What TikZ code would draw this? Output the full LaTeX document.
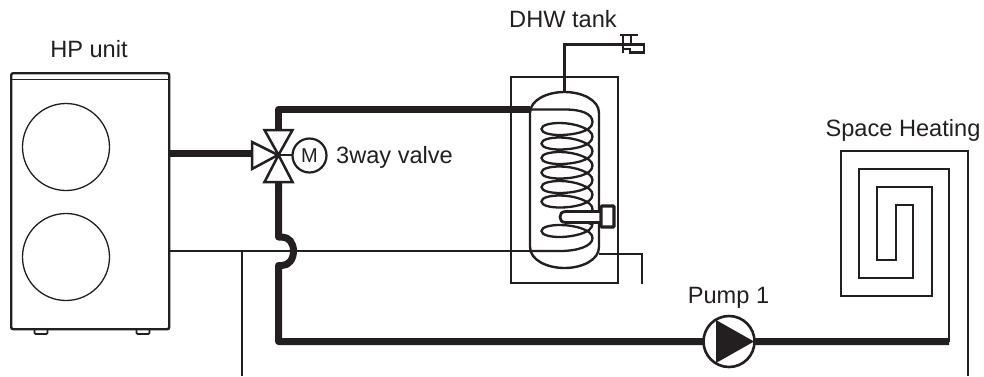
\documentclass[tikz,border=0pt]{standalone}
\usepackage{fontspec}
\setmainfont{Liberation Sans}
\definecolor{ink}{HTML}{231F20}
\tikzset{
  x=1pt,y=-1pt,
  every path/.style={color=ink},
  lab/.style={anchor=base,inner sep=0pt,text=ink,font=\fontsize{23.6}{24}\selectfont},
  thickpipe/.style={draw=ink,line width=7pt,line join=round,line cap=round},
  thinpipe/.style={draw=ink,line width=2.1pt,line join=miter},
  casing/.style={draw=ink,line width=2.4pt,rounded corners=2pt,fill=white},
  fan/.style={circle,draw=ink,line width=1.3pt,minimum size=87pt,inner sep=0pt},
  valvepart/.style={draw=ink,line width=2.5pt,fill=white,line join=miter},
  coil/.style={draw=ink,line width=2.3pt},
  foot/.style={draw=ink,line width=1.8pt,rounded corners=1pt,fill=white,minimum width=13pt,minimum height=5.5pt,inner sep=0pt,anchor=north},
}
\begin{document}
\begin{tikzpicture}
\useasboundingbox (0,0) rectangle (984,376);
% labels
\node[lab] (hplabel) at (89,57) {HP unit};
\node[lab] (dhwlabel) at (563,27.5) {DHW tank};
\node[lab] (valvelabel) at (394.5,163) {3way valve};
\node[lab] (pumplabel) at (728.5,303) {Pump 1};
\node[lab] (shlabel) at (903,136.5) {Space Heating};
% coordinates
\coordinate (hpHot) at (168,153.5);
\coordinate (hpRet) at (168,251);
\coordinate (valve) at (278,155);
\coordinate (tankHot) at (530,109.5);
\coordinate (tankRet) at (530,251);
\coordinate (floorIn) at (949,341.5);
\coordinate (retDrop) at (242,251);
\coordinate (retEnd) at (242,376);
\coordinate (floorEnd) at (968,376);
\coordinate (tankTop) at (564.5,92);
\coordinate (tapIn) at (623,44.5);
\coordinate (drainA) at (599,254);
\coordinate (drainB) at (642,284);
% thin return behind everything
\draw[thinpipe] (hpRet) -- (tankRet);
\draw[thinpipe] (retDrop) -- (retEnd);
% HP unit
\node[foot] (footA) at (41,327.5) {};
\node[foot] (footB) at (143,327.5) {};
\node[casing,minimum width=158pt,minimum height=256pt,inner sep=0pt,rectangle,anchor=north west] (hp) at (10,72) {};
\draw[line width=1.4pt] (10,79.5) -- (168,79.5);
\node[fan] (fanA) at (66,147) {};
\node[fan] (fanB) at (66,257) {};
% thick pipes
\draw[thickpipe,line cap=butt] (hpHot) -- (253,153.5);
\draw[thickpipe,line cap=butt] (278.5,131) -- (278.5,109.5) -- (tankHot);
\draw[thickpipe,line cap=butt] (278.5,181) -- (278.5,237)
  .. controls (281,237) .. (282,237)
  .. controls (289,237) and (293.5,243) .. (293.5,251)
  .. controls (293.5,259) and (289,265.5) .. (282,265.5)
  .. controls (281,265.5) .. (278.5,265.5) -- (278.5,341.5) -- (floorIn);
% valve
\draw[line width=2.1pt] (valve) -- (292,155);
\draw[valvepart] (252,142) -- (278,155) -- (252,169) -- cycle;
\draw[valvepart] (264.5,130) -- (292.5,130) -- (278.5,155) -- cycle;
\draw[valvepart] (264.5,182) -- (292.5,182) -- (278.5,155) -- cycle;
\node[circle,draw=ink,line width=2.2pt,fill=white,minimum size=34pt,inner sep=0pt,font=\fontsize{20}{20}\selectfont,text=ink] (motor) at (309.5,155.5) {M};
% tank
\draw[thinpipe] (511,77) rectangle (618,283);
\draw[thinpipe] (tankTop) -- (564.5,44.5) -- (tapIn);
\draw[thinpipe] (drainA) -- (642,254) -- (drainB);
\draw[draw=ink,line width=2.4pt,fill=white] (530,113) .. controls (530,100) and (547,92) .. (tankTop)
  .. controls (582,92) and (599,100) .. (599,113) -- (599,247)
  .. controls (599,260) and (582,268) .. (564.5,268)
  .. controls (547,268) and (530,260) .. (530,247) -- cycle;
\draw[thinpipe] (528,251) -- (533,251);
% coil
\draw[coil] (tankHot) -- (565,109.5)
  .. controls (582,109.5) and (592.5,114) .. (592.5,122)
  \foreach \y in {122,136.5,151,165.5,180,194.5}{
    .. controls (592.5,\y+10) and (572,\y+13) .. (560,\y+13)
    .. controls (550,\y+13) and (541.5,\y+11) .. (541.5,\y+7)
    .. controls (541.5,\y+3) and (550,\y+1) .. (560,\y+1)
    .. controls (575,\y+1) and (592.5,\y+7) .. (592.5,\y+14.5)
  } .. controls (592.5,212) and (590,215) .. (586,217);
\draw[coil] (586,222) .. controls (590,224) and (592.5,224) .. (592.5,224)
  .. controls (592.5,233) and (572,237) .. (560,237)
  .. controls (550,237) and (541.5,235) .. (541.5,231)
  .. controls (541.5,227) and (550,225) .. (560,225)
  .. controls (575,225) and (592.5,230) .. (592.5,238)
  .. controls (592.5,246) and (578,251) .. (560,251) -- (tankRet);
% sensor pocket
\draw[draw=ink,line width=2.8pt,fill=white] (601,211.5) -- (566,211.5)
  .. controls (561.5,211.5) and (560,214) .. (560,217)
  .. controls (560,220) and (561.5,222.5) .. (566,222.5) -- (601,222.5);
\draw[draw=ink,line width=3.2pt,fill=white,rounded corners=1pt] (601,206) rectangle (614,227);
% tap
\draw[line width=2.3pt] (623,35) -- (623,53);
\draw[line width=2.3pt] (620,35) -- (638,35);
\draw[line width=2.3pt] (631,35) -- (631,44);
\draw[line width=2.3pt] (tapIn) -- (644,44.5) -- (644,52.5) -- (630,52.5) -- (630,49) -- (623,49);
% spiral
\draw[thinpipe] (floorIn) -- (949,169) -- (859,169) -- (859,278) -- (913,278) -- (913,205) -- (896,205) -- (896,260) -- (877,260) -- (877,187) -- (932,187) -- (932,296) -- (841,296) -- (841,151) -- (968,151) -- (floorEnd);
% pump
\node[circle,draw=ink,line width=2.6pt,fill=white,minimum size=51pt,inner sep=0pt] (pump) at (729,341.5) {};
\fill[ink] (716,320) -- (754,341.5) -- (716,363) -- cycle;
\end{tikzpicture}
\end{document}
